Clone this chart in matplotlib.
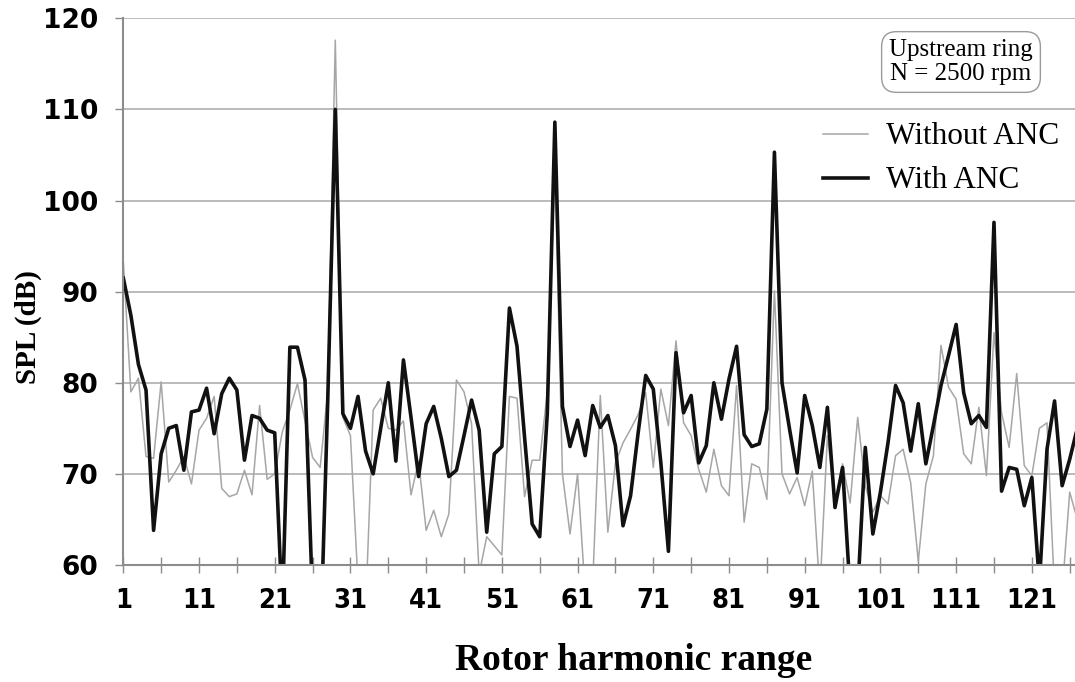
import matplotlib
matplotlib.use('Agg')
import matplotlib.pyplot as plt
import numpy as np

# rotor harmonic index 1..127
harmonic = np.arange(1, 128)

# SPL (dB) without active noise control (thin gray)
spl_without = [93.3, 79.0, 80.5, 71.9, 71.7, 80.1, 69.1, 70.4, 71.9, 68.9,
               74.8, 76.1, 78.5, 68.4, 67.5, 67.8, 70.4, 67.7, 77.5, 69.4,
               70.0, 74.6, 77.0, 79.9, 75.8, 71.8, 70.7, 79.0, 117.6, 76.2,
               74.2, 58.0, 55.0, 77.0, 78.3, 75.0, 74.8, 75.8, 67.7, 71.4,
               63.8, 66.0, 63.1, 65.6, 80.3, 79.0, 75.5, 59.0, 63.1, 62.1,
               61.1, 78.5, 78.3, 67.5, 71.5, 71.5, 79.0, 104.0, 70.0, 63.4,
               70.0, 57.0, 58.0, 78.6, 63.6, 71.2, 73.4, 74.9, 76.5, 78.9,
               70.7, 79.3, 75.3, 84.6, 75.6, 74.2, 70.5, 68.0, 72.7, 68.7,
               67.6, 79.7, 64.7, 71.1, 70.7, 67.2, 90.1, 70.0, 67.8, 69.6,
               66.5, 70.3, 57.0, 74.2, 66.8, 71.1, 66.8, 76.2, 68.7, 65.8,
               67.6, 66.7, 72.0, 72.7, 69.0, 60.4, 68.9, 72.0, 84.1, 79.5,
               78.2, 72.2, 71.1, 77.3, 69.8, 85.5, 76.7, 72.9, 81.0, 70.9,
               69.8, 75.0, 75.6, 57.0, 57.0, 68.0, 65.0]

# SPL (dB) with active noise control (thick black)
spl_with = [91.5, 87.4, 82.0, 79.2, 63.8, 72.2, 75.0, 75.3, 70.4, 76.8,
            77.0, 79.4, 74.4, 78.8, 80.5, 79.2, 71.5, 76.4, 76.1, 74.8,
            74.5, 55.0, 83.9, 83.9, 80.3, 56.0, 50.0, 78.0, 110.0, 76.6,
            75.0, 78.5, 72.5, 70.0, 75.0, 80.0, 71.4, 82.5, 76.2, 69.7,
            75.5, 77.4, 73.9, 69.7, 70.4, 74.2, 78.1, 74.8, 63.6, 72.2,
            73.0, 88.2, 84.0, 74.0, 64.5, 63.1, 76.6, 108.6, 77.4, 73.0,
            75.9, 72.0, 77.5, 75.1, 76.4, 73.1, 64.3, 67.6, 74.5, 80.8,
            79.3, 71.2, 61.5, 83.3, 76.7, 78.6, 71.2, 73.1, 80.0, 76.0,
            80.4, 84.0, 74.3, 73.0, 73.3, 77.1, 105.3, 80.0, 74.9, 70.1,
            78.6, 75.3, 70.7, 77.3, 66.3, 70.7, 57.0, 57.0, 72.9, 63.4,
            68.0, 73.4, 79.7, 77.8, 72.5, 77.7, 71.1, 75.3, 79.7, 83.0,
            86.4, 78.9, 75.5, 76.4, 75.1, 97.6, 68.1, 70.7, 70.5, 66.5,
            69.6, 58.0, 72.7, 78.0, 68.7, 71.6, 75.0]

major_ticks = np.arange(1, 122, 10)
minor_ticks = np.arange(6, 127, 10)
y_ticks = np.arange(60, 121, 10)

fig = plt.figure(figsize=(10.75, 6.82), dpi=100)
ax = fig.add_axes([0.1147, 0.1716, 0.8853, 0.8016])

ax.plot(harmonic, spl_without, color='#a6a6a6', lw=1.1, label='Without ANC')
ax.plot(harmonic, spl_with, color='#111111', lw=2.6, label='With ANC')

ax.set_xlim(1, 126.7)
ax.set_ylim(60, 120)

# axes look
for s in ['top', 'right']:
    ax.spines[s].set_visible(False)
for s in ['left', 'bottom']:
    ax.spines[s].set_color('#8c8c8c')
    ax.spines[s].set_linewidth(1.5)
ax.set_axisbelow(True)
ax.yaxis.grid(True, color='#a8a8a8', lw=1.1)

ax.set_xticks(major_ticks)
ax.set_xticks(minor_ticks, minor=True)
ax.set_xticklabels([str(t) for t in major_ticks])
ax.tick_params(axis='x', which='both', direction='inout', length=11,
               width=1, color='#8c8c8c', pad=11)
ax.set_yticks(y_ticks)
ax.tick_params(axis='y', direction='out', length=6, width=1,
               color='#8c8c8c', pad=12)
for lab in ax.get_xticklabels():
    lab.set_family('DejaVu Sans')
    lab.set_stretch('condensed')
    lab.set_fontweight('bold')
    lab.set_fontsize(19.5)
for lab in ax.get_yticklabels():
    lab.set_family('DejaVu Sans')
    lab.set_fontweight('bold')
    lab.set_fontsize(19)

# axis titles
fig.text(0.589, 0.032, 'Rotor harmonic range', ha='center', va='center',
         family='Liberation Serif', weight='bold', fontsize=27)
fig.text(0.026, 0.52, 'SPL (dB)', ha='center', va='center', rotation=90,
         family='Liberation Serif', weight='bold', fontsize=21)

# legend
leg = fig.legend(loc='center left', bbox_to_anchor=(823 / 1075, 1 - 159 / 682),
                 frameon=False, borderpad=0, borderaxespad=0,
                 handlelength=1.45, handletextpad=0.55, labelspacing=0.48,
                 prop={'family': 'Liberation Serif', 'size': 22.5})

# operating condition box
fig.text(961 / 1075, 1 - 62 / 682, 'Upstream ring\nN = 2500 rpm',
         ha='center', va='center', family='Liberation Serif', fontsize=18,
         linespacing=1.1,
         bbox=dict(boxstyle='round,pad=0.3,rounding_size=0.6',
                   fc='white', ec='#9a9a9a', lw=1.0))

plt.savefig('out.png', dpi=100)
